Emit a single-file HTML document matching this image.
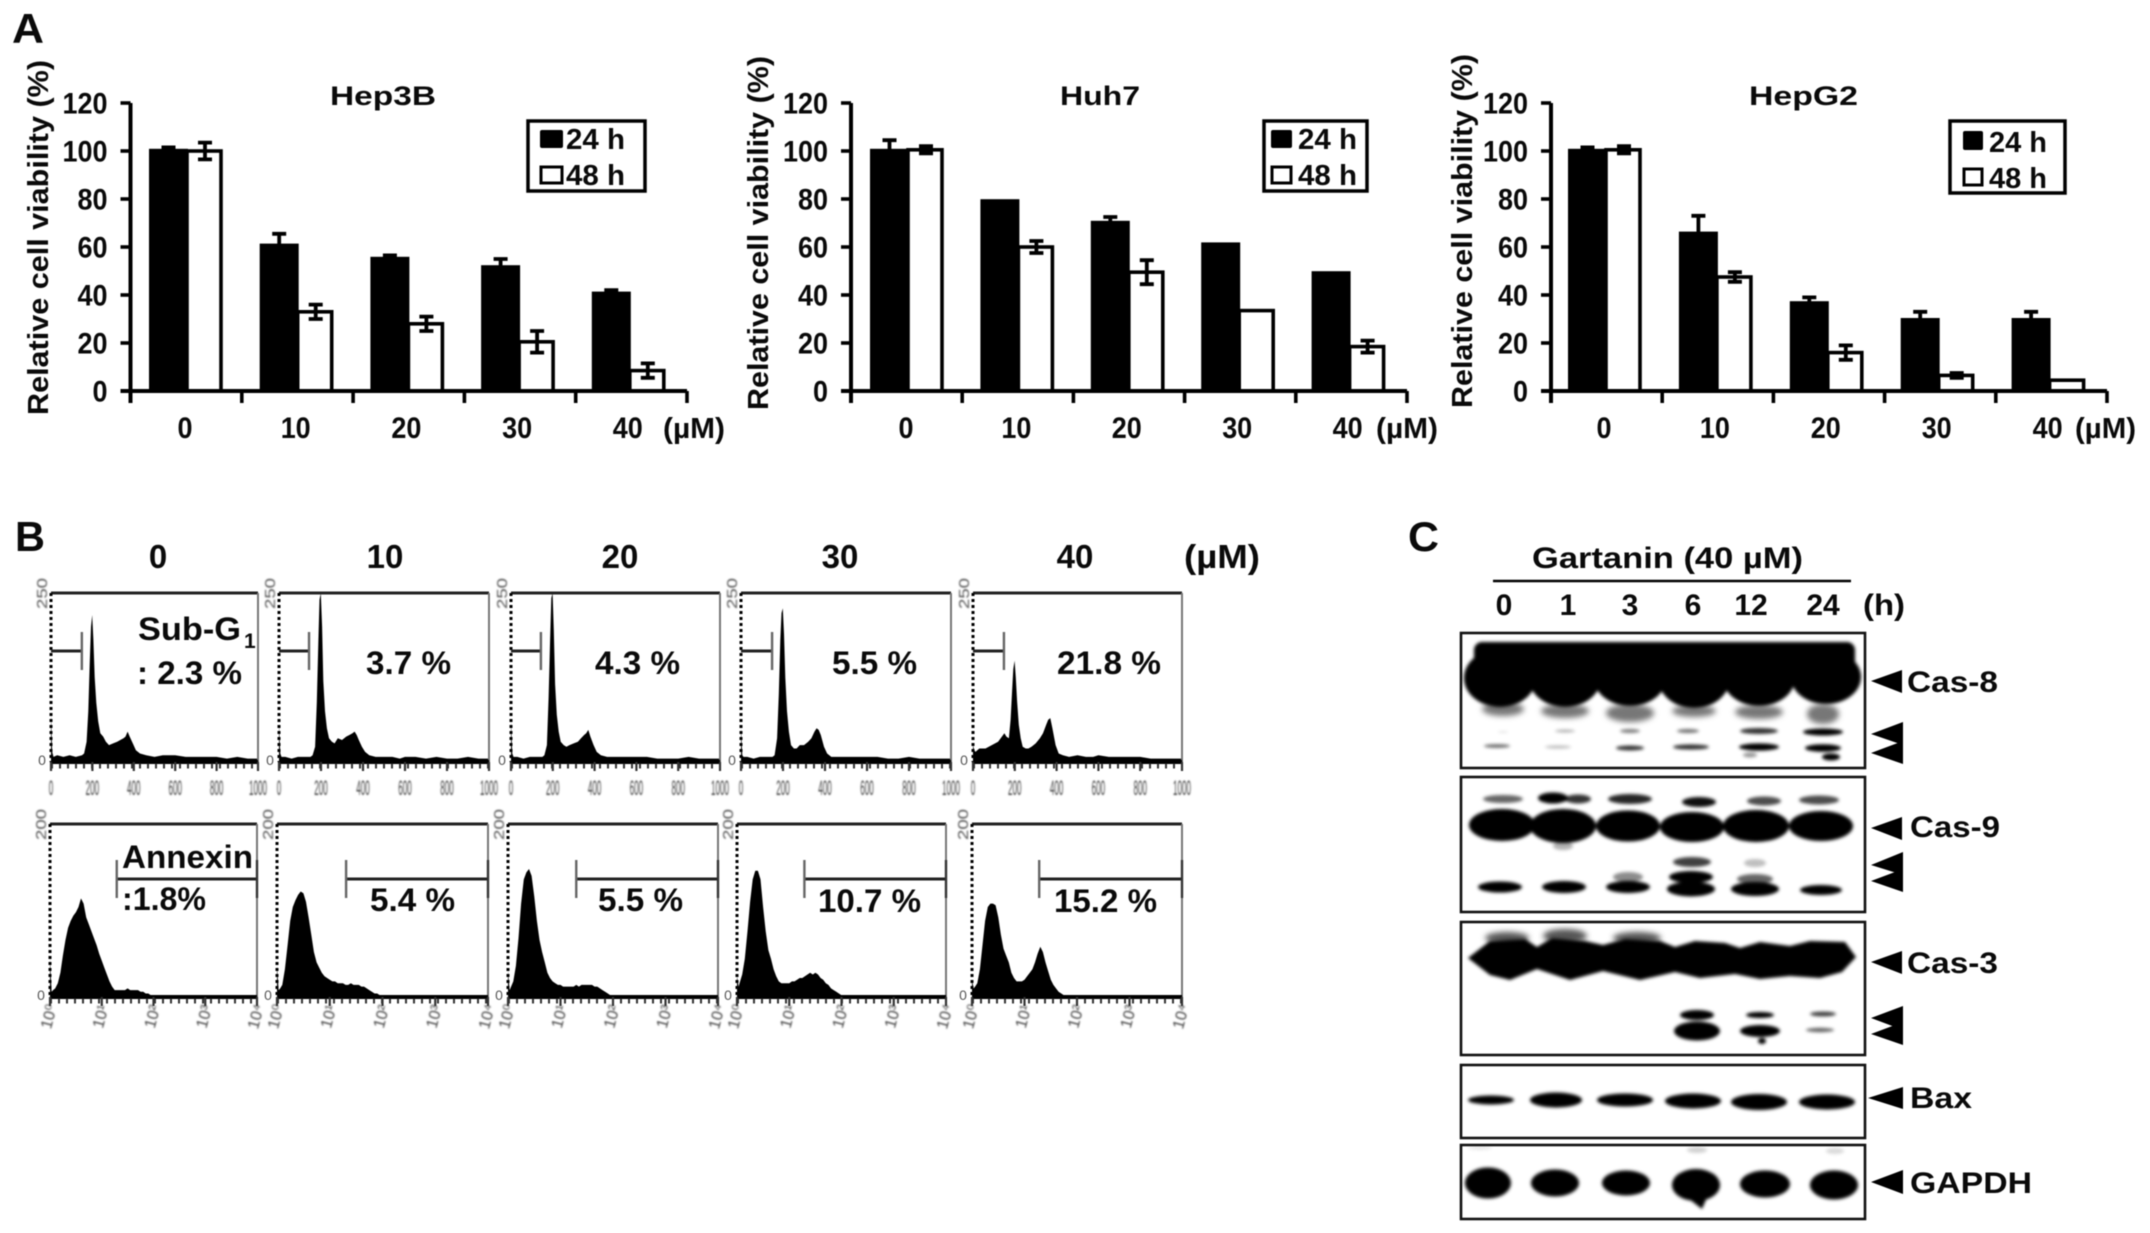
<!DOCTYPE html>
<html lang="en">
<head>
<meta charset="utf-8">
<title>Gartanin cell viability, flow cytometry and western blot figure</title>
<style>
html,body{margin:0;padding:0;background:#fff;width:2150px;height:1233px;overflow:hidden}
svg{display:block;filter:blur(0.6px)}
text{font-family:"Liberation Sans",Arial,sans-serif;font-weight:bold;fill:#0a0a0a}
</style>
</head>
<body>
<svg id="figure" xmlns="http://www.w3.org/2000/svg" width="2150" height="1233" viewBox="0 0 2150 1233">
<defs>
<filter id="soft" x="-30%" y="-60%" width="160%" height="220%"><feGaussianBlur stdDeviation="1.6"/></filter>
<filter id="softer" x="-30%" y="-60%" width="160%" height="220%"><feGaussianBlur stdDeviation="3"/></filter>
<filter id="smudge" x="-30%" y="-30%" width="160%" height="160%"><feGaussianBlur stdDeviation="0.8"/></filter>
</defs>
<rect width="2150" height="1233" fill="#fff"/>

<text x="12" y="43" font-size="42" textLength="32" lengthAdjust="spacingAndGlyphs">A</text>
<text x="15" y="551" font-size="42" textLength="30" lengthAdjust="spacingAndGlyphs">B</text>
<text x="1408" y="551" font-size="42" textLength="31" lengthAdjust="spacingAndGlyphs">C</text>

<g id="chart-a"></g>

<g>
<text x="330" y="105" font-size="27" textLength="106" lengthAdjust="spacingAndGlyphs">Hep3B</text>
<text transform="translate(48,415) rotate(-90)" font-size="29" textLength="355" lengthAdjust="spacingAndGlyphs">Relative cell viability (%)</text>
<text x="663" y="438" font-size="29" textLength="62" lengthAdjust="spacingAndGlyphs">(µM)</text>
<g>
<rect x="528" y="121" width="117" height="70" fill="#fff" stroke="#000" stroke-width="3.5"/>
<rect x="540" y="130" width="23" height="18" rx="2" fill="#000"/>
<rect x="541" y="167" width="21" height="16" fill="#fff" stroke="#000" stroke-width="3"/>
<text x="566" y="149" font-size="29" textLength="59" lengthAdjust="spacingAndGlyphs">24 h</text>
<text x="566" y="185" font-size="29" textLength="59" lengthAdjust="spacingAndGlyphs">48 h</text>
</g>
</g>

<g>
<text x="1060" y="105" font-size="27" textLength="80" lengthAdjust="spacingAndGlyphs">Huh7</text>
<text transform="translate(768,410) rotate(-90)" font-size="29" textLength="354" lengthAdjust="spacingAndGlyphs">Relative cell viability (%)</text>
<text x="1376" y="438" font-size="29" textLength="62" lengthAdjust="spacingAndGlyphs">(µM)</text>
<g>
<rect x="1264" y="121" width="103" height="70" fill="#fff" stroke="#000" stroke-width="3.5"/>
<rect x="1271" y="130" width="21" height="18" rx="2" fill="#000"/>
<rect x="1272" y="167" width="19" height="16" fill="#fff" stroke="#000" stroke-width="3"/>
<text x="1298" y="149" font-size="29" textLength="59" lengthAdjust="spacingAndGlyphs">24 h</text>
<text x="1298" y="185" font-size="29" textLength="59" lengthAdjust="spacingAndGlyphs">48 h</text>
</g>
</g>

<g>
<text x="1749" y="105" font-size="27" textLength="109" lengthAdjust="spacingAndGlyphs">HepG2</text>
<text transform="translate(1472,408) rotate(-90)" font-size="29" textLength="354" lengthAdjust="spacingAndGlyphs">Relative cell viability (%)</text>
<text x="2075" y="438" font-size="29" textLength="61" lengthAdjust="spacingAndGlyphs">(µM)</text>
<g>
<rect x="1950" y="121" width="115" height="72" fill="#fff" stroke="#000" stroke-width="3.5"/>
<rect x="1963" y="131" width="20" height="19" rx="2" fill="#000"/>
<rect x="1964" y="169" width="18" height="16" fill="#fff" stroke="#000" stroke-width="3"/>
<text x="1989" y="152" font-size="29" textLength="58" lengthAdjust="spacingAndGlyphs">24 h</text>
<text x="1989" y="188" font-size="29" textLength="58" lengthAdjust="spacingAndGlyphs">48 h</text>
</g>
</g>

<g id="chart-b"></g>

<g>
<text x="158" y="568" text-anchor="middle" font-size="33">0</text>
<text x="385" y="568" text-anchor="middle" font-size="33">10</text>
<text x="620" y="568" text-anchor="middle" font-size="33">20</text>
<text x="840" y="568" text-anchor="middle" font-size="33">30</text>
<text x="1075" y="568" text-anchor="middle" font-size="33">40</text>
<text x="1184" y="568" font-size="33" textLength="76" lengthAdjust="spacingAndGlyphs">(µM)</text>
</g>
<g>
<text x="138" y="640" font-size="32" textLength="103" lengthAdjust="spacingAndGlyphs">Sub-G</text>
<text x="244" y="648" font-size="21">1</text>
<text x="137" y="684" font-size="32" textLength="105" lengthAdjust="spacingAndGlyphs">: 2.3 %</text>
<text x="366" y="674" font-size="32" textLength="85" lengthAdjust="spacingAndGlyphs">3.7 %</text>
<text x="595" y="674" font-size="32" textLength="85" lengthAdjust="spacingAndGlyphs">4.3 %</text>
<text x="832" y="674" font-size="32" textLength="85" lengthAdjust="spacingAndGlyphs">5.5 %</text>
<text x="1057" y="674" font-size="32" textLength="104" lengthAdjust="spacingAndGlyphs">21.8 %</text>
<text x="122" y="868" font-size="32" textLength="131" lengthAdjust="spacingAndGlyphs">Annexin</text>
<text x="122" y="910" font-size="32" textLength="84" lengthAdjust="spacingAndGlyphs">:1.8%</text>
<text x="370" y="911" font-size="32" textLength="85" lengthAdjust="spacingAndGlyphs">5.4 %</text>
<text x="598" y="911" font-size="32" textLength="85" lengthAdjust="spacingAndGlyphs">5.5 %</text>
<text x="818" y="912" font-size="32" textLength="103" lengthAdjust="spacingAndGlyphs">10.7 %</text>
<text x="1054" y="912" font-size="32" textLength="103" lengthAdjust="spacingAndGlyphs">15.2 %</text>
</g>

<g>
<text x="1532" y="568" font-size="30" textLength="271" lengthAdjust="spacingAndGlyphs">Gartanin (40 µM)</text>
<line x1="1493" y1="581" x2="1851" y2="581" stroke="#000" stroke-width="2.5"/>
<text x="1504" y="615" font-size="30" text-anchor="middle">0</text>
<text x="1568" y="615" font-size="30" text-anchor="middle">1</text>
<text x="1630" y="615" font-size="30" text-anchor="middle">3</text>
<text x="1693" y="615" font-size="30" text-anchor="middle">6</text>
<text x="1751" y="615" font-size="30" text-anchor="middle">12</text>
<text x="1823" y="615" font-size="30" text-anchor="middle">24</text>
<text x="1863" y="615" font-size="30" textLength="42" lengthAdjust="spacingAndGlyphs">(h)</text>
</g>

<g>
<g filter="url(#softer)" fill="#777">
<ellipse cx="1503" cy="709" rx="21" ry="7"/><ellipse cx="1565" cy="711" rx="24" ry="7"/><ellipse cx="1630" cy="713" rx="24" ry="9"/><ellipse cx="1694" cy="711" rx="22" ry="6"/><ellipse cx="1759" cy="712" rx="24" ry="7"/><ellipse cx="1823" cy="714" rx="16" ry="10"/>
</g>
<g filter="url(#soft)" fill="#000">
<rect x="1474" y="642" width="381" height="30" rx="8"/>
<ellipse cx="1500" cy="678" rx="36" ry="29"/><ellipse cx="1565" cy="678" rx="36" ry="29"/><ellipse cx="1630" cy="678" rx="36" ry="28"/><ellipse cx="1694" cy="678" rx="36" ry="30"/><ellipse cx="1759" cy="678" rx="36" ry="28"/><ellipse cx="1826" cy="677" rx="35" ry="27"/>
<ellipse cx="1503" cy="732" rx="5" ry="1" opacity=".1"/><ellipse cx="1565" cy="731" rx="10" ry="1.5" opacity=".3"/><ellipse cx="1630" cy="731" rx="10" ry="2" opacity=".5"/><ellipse cx="1688" cy="731" rx="11" ry="2" opacity=".55"/><ellipse cx="1759" cy="731" rx="19" ry="3" opacity=".8"/><ellipse cx="1823" cy="732" rx="20" ry="3.5"/>
<ellipse cx="1497" cy="746" rx="13" ry="1.8" opacity=".6"/><ellipse cx="1558" cy="747" rx="13" ry="1.6" opacity=".25"/><ellipse cx="1630" cy="748" rx="14" ry="2.5" opacity=".8"/><ellipse cx="1691" cy="747" rx="18" ry="2.6" opacity=".8"/><ellipse cx="1759" cy="747" rx="20" ry="3.6"/><ellipse cx="1823" cy="748" rx="18" ry="3.8"/><ellipse cx="1831" cy="757" rx="9" ry="3.5"/><ellipse cx="1750" cy="755" rx="7" ry="2.5" opacity=".4"/>
</g>
<rect x="1461" y="633" width="404" height="135" fill="none" stroke="#111" stroke-width="2.6"/>
<polygon points="1871,681 1902,670 1902,693" fill="#000"/>
<polygon points="1871,734 1903,722 1903,745" fill="#000"/>
<polygon points="1871,753 1903,741 1903,764" fill="#000"/>
<text x="1907" y="692" font-size="30" textLength="91" lengthAdjust="spacingAndGlyphs">Cas-8</text>
</g>

<g>
<g filter="url(#soft)" fill="#000">
<ellipse cx="1503" cy="799" rx="20" ry="4" opacity=".6"/><ellipse cx="1553" cy="798" rx="15" ry="5.5"/><ellipse cx="1578" cy="799" rx="13" ry="4.5" opacity=".8"/><ellipse cx="1630" cy="799" rx="22" ry="5" opacity=".85"/><ellipse cx="1699" cy="802" rx="17" ry="5" opacity=".95"/><ellipse cx="1764" cy="801" rx="17" ry="4.5" opacity=".7"/><ellipse cx="1819" cy="800" rx="20" ry="4.5" opacity=".7"/>
<ellipse cx="1502" cy="825" rx="33" ry="16"/><ellipse cx="1563" cy="826" rx="33" ry="17"/><ellipse cx="1628" cy="826" rx="32" ry="15.5"/><ellipse cx="1692" cy="827" rx="32" ry="15"/><ellipse cx="1756" cy="826" rx="33" ry="16"/><ellipse cx="1821" cy="826" rx="32" ry="15"/>
<ellipse cx="1563" cy="846" rx="10" ry="4" opacity=".3"/>
<ellipse cx="1692" cy="862" rx="19" ry="5" opacity=".75"/><ellipse cx="1691" cy="877" rx="22" ry="6"/><ellipse cx="1628" cy="877" rx="15" ry="5" opacity=".45"/><ellipse cx="1755" cy="863" rx="11" ry="4" opacity=".25"/><ellipse cx="1755" cy="879" rx="18" ry="5" opacity=".6"/>
<ellipse cx="1500" cy="887" rx="22" ry="5.5"/><ellipse cx="1564" cy="887" rx="22" ry="6"/><ellipse cx="1628" cy="887" rx="22" ry="6"/><ellipse cx="1691" cy="889" rx="24" ry="7.5"/><ellipse cx="1755" cy="889" rx="24" ry="7"/><ellipse cx="1821" cy="890" rx="21" ry="5"/>
</g>
<rect x="1461" y="777" width="404" height="135" fill="none" stroke="#111" stroke-width="2.6"/>
<polygon points="1871,828 1902,817 1902,840" fill="#000"/>
<polygon points="1871,865 1903,852 1903,875" fill="#000"/>
<polygon points="1871,881 1903,869 1903,892" fill="#000"/>
<text x="1910" y="837" font-size="30" textLength="90" lengthAdjust="spacingAndGlyphs">Cas-9</text>
</g>

<g>
<g filter="url(#softer)" fill="#555">
<ellipse cx="1507" cy="938" rx="22" ry="6"/><ellipse cx="1565" cy="936" rx="22" ry="7"/><ellipse cx="1637" cy="938" rx="24" ry="6"/>
</g>
<g filter="url(#soft)" fill="#000">
<polygon points="1468,958 1490,941 1525,939 1537,947 1552,938 1585,941 1603,945 1625,939 1660,941 1675,947 1695,941 1725,943 1740,948 1760,942 1790,946 1810,941 1845,942 1856,957 1842,972 1820,978 1790,976 1760,979 1735,974 1700,978 1675,972 1640,980 1603,971 1570,980 1537,969 1510,980 1490,975"/>
<ellipse cx="1697" cy="1015" rx="17" ry="5"/><ellipse cx="1697" cy="1031" rx="23" ry="9.5"/>
<ellipse cx="1760" cy="1015" rx="14" ry="3"/><ellipse cx="1760" cy="1031" rx="20" ry="6"/><ellipse cx="1762" cy="1041" rx="4" ry="3"/>
<ellipse cx="1823" cy="1014" rx="13" ry="2.4" opacity=".75"/><ellipse cx="1820" cy="1030" rx="14" ry="2.2" opacity=".6"/>
</g>
<rect x="1461" y="922" width="404" height="133" fill="none" stroke="#111" stroke-width="2.6"/>
<polygon points="1871,962 1902,951 1902,974" fill="#000"/>
<polygon points="1871,1018 1903,1006 1903,1030" fill="#000"/>
<polygon points="1871,1034 1903,1022 1903,1045" fill="#000"/>
<text x="1907" y="973" font-size="30" textLength="91" lengthAdjust="spacingAndGlyphs">Cas-3</text>
</g>

<g>
<g filter="url(#soft)" fill="#000">
<ellipse cx="1491" cy="1100" rx="23" ry="4.5"/><ellipse cx="1556" cy="1100" rx="26" ry="7.5"/><ellipse cx="1625" cy="1100" rx="28" ry="6.5"/><ellipse cx="1693" cy="1101" rx="28" ry="7.5"/><ellipse cx="1759" cy="1102" rx="28" ry="8"/><ellipse cx="1827" cy="1102" rx="28" ry="7.5"/>
</g>
<rect x="1461" y="1065" width="404" height="73" fill="none" stroke="#111" stroke-width="2.6"/>
<polygon points="1868,1098 1903,1087 1903,1109" fill="#000"/>
<text x="1910" y="1108" font-size="30" textLength="62" lengthAdjust="spacingAndGlyphs">Bax</text>
</g>

<g>
<g filter="url(#soft)" fill="#000">
<ellipse cx="1488" cy="1183" rx="23" ry="15.5"/><ellipse cx="1555" cy="1183" rx="24" ry="13.5"/><ellipse cx="1626" cy="1183" rx="24" ry="12.5"/><ellipse cx="1696" cy="1185" rx="24" ry="16"/><polygon points="1684,1195 1708,1195 1702,1209"/><ellipse cx="1765" cy="1184" rx="25" ry="13.5"/><ellipse cx="1834" cy="1185" rx="24" ry="14.5"/>
<ellipse cx="1697" cy="1150" rx="10" ry="3" opacity=".18"/><ellipse cx="1835" cy="1151" rx="9" ry="3" opacity=".15"/><ellipse cx="1480" cy="1148" rx="12" ry="1.5" opacity=".12"/>
</g>
<rect x="1461" y="1145" width="404" height="74" fill="none" stroke="#111" stroke-width="2.6"/>
<polygon points="1871,1182 1903,1170 1903,1194" fill="#000"/>
<text x="1910" y="1193" font-size="30" textLength="122" lengthAdjust="spacingAndGlyphs">GAPDH</text>
</g>
</svg>

<script>
/* Panel A data: relative cell viability (%) */
var doses = ['0', '10', '20', '30', '40'];
var yTickLabels = ['0', '20', '40', '60', '80', '100', '120'];

var hep3b24 = [100.5, 61, 55.5, 52, 41];
var hep3b48 = [100, 33, 28, 20.5, 8.5];
var hep3b24Err = [1, 4.5, 1, 3, 1];
var hep3b48Err = [3.5, 3, 3, 4.5, 3];

var huh724 = [100.5, 79.5, 70.5, 61.5, 49.5];
var huh748 = [100.5, 60, 49.5, 33.5, 18.5];
var huh724Err = [4, 0, 2, 0, 0];
var huh748Err = [1.5, 2.5, 5, 0, 2.5];

var hepg224 = [100.5, 66, 37, 30, 30];
var hepg248 = [100.5, 47.5, 16, 6.5, 4.5];
var hepg224Err = [1, 7, 2, 3, 3];
var hepg248Err = [1.5, 2, 3, 1, 0];

/* Panel B data: histogram heights in % of plot height */
var dnaChannels = [0,6,12,30,60,90,120,150,160,172,180,187,193,199,205,211,219,228,238,252,265,280,300,320,335,350,360,370,380,395,410,430,460,500,540,575,600,650,700,750,800,850,900,950,1000];
var dnaCounts0 = [28,6,3,4,3,4,3,4,5,12,30,58,80,87,72,50,35,24,17,15,12,10,11,12,13,14,15,18,15,11,7,5,4,3,4,4,4,3,3,3,3,2,3,2,2];
var dnaCounts10 = [22,5,3,3,2,3,3,3,4,9,35,70,96,100,80,48,30,20,14,12,11,14,13,15,16,17,18,16,13,9,6,4,3,3,3,2,3,3,2,3,2,2,3,2,2];
var dnaCounts20 = [24,5,3,3,2,3,3,3,4,10,38,72,97,100,78,46,28,18,12,10,9,10,11,12,14,16,17,19,15,10,6,4,3,3,3,3,3,3,2,2,2,3,2,2,2];
var dnaCounts30 = [20,4,3,3,2,3,3,3,4,14,40,72,88,91,76,50,30,18,10,8,8,10,10,12,14,18,20,19,16,9,5,3,3,3,3,3,3,3,2,2,3,2,2,2,2];
var dnaCounts40 = [10,7,6,8,8,10,12,17,15,14,25,42,55,60,50,36,22,14,9,8,8,9,11,14,17,22,25,26,20,10,5,4,3,4,3,3,4,3,3,3,3,2,2,2,2];
var dnaGates = [149, 143, 143, 148, 148];
var dnaTickLabels = ['0', '200', '400', '600', '800', '1000'];

var annexinLog = [0,.03,.06,.1,.15,.2,.25,.3,.35,.4,.45,.5,.55,.6,.65,.7,.75,.8,.85,.9,.95,1,1.05,1.1,1.15,1.2,1.25,1.3,1.35,1.4,1.45,1.5,1.55,1.6,1.65,1.7,1.75,1.8,1.85,1.9,1.95,2,2.05,2.1,2.2,2.5,3,3.5,4];
var annexinCounts0 = [22,3,4,5,8,14,24,33,40,44,47,49,52,57,54,46,42,38,34,30,25,21,17,13,9,6,4,4,4,4,4,5,4,4,4,4,3,3,2,2,1,1,1,1,1,1,1,1,1];
var annexinCounts10 = [18,4,5,7,16,30,44,52,56,59,61,60,55,46,36,26,20,17,14,12,11,10,9,9,8,8,8,7,7,8,7,7,7,6,6,5,4,3,2,2,1,1,1,1,1,1,1,1,1];
var annexinCounts20 = [15,4,6,9,18,34,54,68,72,74,70,58,44,33,26,20,14,11,9,8,7,7,6,6,6,6,6,7,6,7,7,7,7,7,6,6,5,4,3,2,1,1,1,1,1,1,1,1,1];
var annexinCounts30 = [12,6,9,13,22,38,55,68,73,73,68,52,38,27,22,16,12,9,8,8,8,8,9,9,10,11,11,12,13,14,13,14,13,11,10,8,7,5,4,3,2,1,1,1,1,1,1,1,1];
var annexinCounts40 = [10,5,6,8,16,30,44,52,54,54,53,46,36,28,24,20,14,11,9,9,9,10,12,14,16,20,25,29,26,20,15,10,7,5,3,2,1,1,1,1,1,1,1,1,1,1,1,1,1];
var annexinGates = [1.29, 1.31, 1.30, 1.29, 1.28];
var annexinTickLabels = ['10⁰', '10¹', '10²', '10³', '10⁴'];

var SVG_NS = 'http://www.w3.org/2000/svg';

function make(tag, attrs, parent) {
  var el = document.createElementNS(SVG_NS, tag);
  for (var k in attrs) { el.setAttribute(k, attrs[k]); }
  parent.appendChild(el);
  return el;
}

/* ---------- Panel A ---------- */
function drawBarChart(cfg) {
  var root = document.getElementById('chart-a');
  var g = make('g', {}, root);
  
  

  var baseY = 391, topY = 103, yMax = 120;
  function y(v) { return baseY - (baseY - topY) * v / yMax; }
  function groupX(i) { return cfg.groupStart + cfg.groupStep * i; }
  var blackW = 39, whiteW = 34;

  doses.forEach(function (dose, i) {
    var bx = groupX(i);
    var black = make('rect', { x: bx, y: y(cfg.v24[i]) - 1, width: blackW, height: baseY - y(cfg.v24[i]) + 1, fill: '#000' }, g);
    
    

    var white = make('rect', { x: bx + blackW - 1, y: y(cfg.v48[i]), width: whiteW, height: baseY - y(cfg.v48[i]), fill: '#fff', stroke: '#000', 'stroke-width': 3.6 }, g);
    
    

    [[cfg.v24[i], cfg.e24[i], bx + blackW / 2, '24h'], [cfg.v48[i], cfg.e48[i], bx + blackW + whiteW / 2, '48h']].forEach(function (s) {
      if (s[1] <= 0) { return; }
      var d = 'M' + s[2] + ' ' + y(s[0] - s[1]) + 'V' + y(s[0] + s[1]) +
              'M' + (s[2] - 7) + ' ' + y(s[0] + s[1]) + 'H' + (s[2] + 7) +
              'M' + (s[2] - 7) + ' ' + y(s[0] - s[1]) + 'H' + (s[2] + 7);
      var err = make('path', { d: d, fill: 'none', stroke: '#000', 'stroke-width': 3.8 }, g);
      
      
    });

    var lab = make('text', { x: bx + 36, y: 438, 'font-size': 30, 'text-anchor': 'middle', textLength: 15 * dose.length, lengthAdjust: 'spacingAndGlyphs' }, g);
    lab.textContent = dose;
    
    
  });

  var yAxis = make('line', { x1: cfg.axisLeft, y1: topY, x2: cfg.axisLeft, y2: baseY + 12, stroke: '#000', 'stroke-width': 4 }, g);
  
  

  var xAxis = make('line', { x1: cfg.axisLeft - 10, y1: baseY, x2: cfg.axisRight, y2: baseY, stroke: '#000', 'stroke-width': 4 }, g);
  
  

  yTickLabels.forEach(function (t) {
    var v = parseFloat(t);
    var tick = make('line', { x1: cfg.axisLeft - 10, y1: y(v), x2: cfg.axisLeft, y2: y(v), stroke: '#000', 'stroke-width': 3.6 }, g);
    
    

    var lab = make('text', { x: cfg.axisLeft - 23, y: y(v) + 10.5, 'font-size': 30, 'text-anchor': 'end', textLength: 15 * t.length, lengthAdjust: 'spacingAndGlyphs' }, g);
    lab.textContent = t;
    
    
  });

  for (var i = 0; i <= doses.length; i++) {
    var tx = cfg.axisLeft + (cfg.axisRight - cfg.axisLeft) * i / doses.length;
    var xt = make('line', { x1: tx, y1: baseY, x2: tx, y2: baseY + 12, stroke: '#000', 'stroke-width': 3.6 }, g);
    
    
  }
}

drawBarChart({ name: 'hep3b', axisLeft: 130.5, axisRight: 687, groupStart: 149, groupStep: 110.7, v24: hep3b24, v48: hep3b48, e24: hep3b24Err, e48: hep3b48Err });
drawBarChart({ name: 'huh7', axisLeft: 851, axisRight: 1407, groupStart: 870, groupStep: 110.4, v24: huh724, v48: huh748, e24: huh724Err, e48: huh748Err });
drawBarChart({ name: 'hepg2', axisLeft: 1551, axisRight: 2107, groupStart: 1568, groupStep: 110.9, v24: hepg224, v48: hepg248, e24: hepg224Err, e48: hepg248Err });

/* ---------- Panel B ---------- */
function drawHistogram(cfg) {
  var root = document.getElementById('chart-b');
  var g = make('g', {}, root);
  
  

  function x(v) { return cfg.left + (cfg.right - cfg.left) * (v - cfg.domainMin) / (cfg.domainMax - cfg.domainMin); }
  function y(p) { return cfg.base - (cfg.base - cfg.top) * p / 100; }

  var d = 'M' + x(cfg.xs[0]) + ' ' + cfg.base;
  cfg.xs.forEach(function (xv, i) { d += 'L' + x(xv).toFixed(1) + ' ' + y(cfg.ys[i]).toFixed(1); });
  d += 'L' + x(cfg.xs[cfg.xs.length - 1]) + ' ' + cfg.base + 'Z';
  var hist = make('path', { d: d, fill: '#000' }, g);
  
  

  var top = make('line', { x1: cfg.left, y1: cfg.top, x2: cfg.right, y2: cfg.top, stroke: '#222', 'stroke-width': 3 }, g);
  
  

  var right = make('line', { x1: cfg.right, y1: cfg.top, x2: cfg.right, y2: cfg.base, stroke: '#777', 'stroke-width': 2 }, g);
  
  

  var left = make('line', { x1: cfg.left, y1: cfg.top, x2: cfg.left, y2: cfg.base, stroke: '#000', 'stroke-width': 3, 'stroke-dasharray': '3 3' }, g);
  
  

  var bottom = make('line', { x1: cfg.left, y1: cfg.base, x2: cfg.right, y2: cfg.base, stroke: '#000', 'stroke-width': 4 }, g);
  
  

  var minor = make('line', { x1: cfg.left, y1: cfg.base + 4, x2: cfg.right, y2: cfg.base + 4, stroke: '#333', 'stroke-width': 5, 'stroke-dasharray': '2 6' }, g);
  
  

  cfg.tickLabels.forEach(function (t, i) {
    var v = cfg.domainMin + (cfg.domainMax - cfg.domainMin) * i / (cfg.tickLabels.length - 1);
    var tick = make('line', { x1: x(v), y1: cfg.base, x2: x(v), y2: cfg.base + 9, stroke: '#333', 'stroke-width': 2.2 }, g);
    
    

    var attrs = { style: 'fill:#444;font-weight:normal', filter: 'url(#smudge)', 'text-anchor': 'middle' };
    if (cfg.rotateLabels) {
      attrs['font-size'] = 16;
      attrs.transform = 'translate(' + (x(v) + 4) + ',' + (cfg.base + 21) + ') rotate(-75)';
    } else {
      attrs['font-size'] = 21;
      attrs.x = x(v);
      attrs.y = cfg.base + 33;
      attrs.textLength = t.length * 4.5;
      attrs.lengthAdjust = 'spacingAndGlyphs';
    }
    var lab = make('text', attrs, g);
    lab.textContent = t;
    
    
  });

  var zero = make('text', { x: cfg.left - 9, y: cfg.base + 3, style: 'fill:#555;font-weight:normal', 'font-size': 14, 'text-anchor': 'middle' }, g);
  zero.textContent = '0';
  
  

  var topLab = make('text', { transform: 'translate(' + (cfg.left - 4) + ',' + (cfg.top + 16) + ') rotate(-90)', style: 'fill:#555;font-weight:normal', filter: 'url(#smudge)', 'font-size': 15, textLength: 31, lengthAdjust: 'spacingAndGlyphs' }, g);
  topLab.textContent = cfg.topLabel;
  
  

  var gateStart = cfg.gateFromLeft ? cfg.domainMin : cfg.gate;
  var gateEnd = cfg.gateFromLeft ? cfg.gate : cfg.domainMax;
  var gateLine = make('line', { x1: x(gateStart), y1: cfg.gateY, x2: x(gateEnd), y2: cfg.gateY, stroke: '#222', 'stroke-width': 3 }, g);
  
  

  var gateEdge = make('line', { x1: x(cfg.gate), y1: cfg.gateY - 19, x2: x(cfg.gate), y2: cfg.gateY + 19, stroke: '#666', 'stroke-width': 2.4 }, g);
  
  

  if (!cfg.gateFromLeft) {
    var gateEnd2 = make('line', { x1: x(gateEnd), y1: cfg.gateY - 19, x2: x(gateEnd), y2: cfg.gateY + 19, stroke: '#333', 'stroke-width': 2.4 }, g);
    
    
  }
}

var dnaPanels = [dnaCounts0, dnaCounts10, dnaCounts20, dnaCounts30, dnaCounts40];
var annexinPanels = [annexinCounts0, annexinCounts10, annexinCounts20, annexinCounts30, annexinCounts40];
var dnaLefts = [51, 279, 511, 741, 973];
var dnaRights = [258, 489, 720, 951, 1182];
var annexinLefts = [50, 277, 508, 737, 972];
var annexinRights = [257, 488, 718, 946, 1182];

dnaPanels.forEach(function (counts, i) {
  drawHistogram({
    name: 'dna-histogram-' + doses[i],
    left: dnaLefts[i], right: dnaRights[i], top: 593, base: 762,
    domainMin: 0, domainMax: 1000, xs: dnaChannels, ys: counts,
    tickLabels: dnaTickLabels, topLabel: '250', gate: dnaGates[i], gateFromLeft: true, gateY: 651
  });
});
annexinPanels.forEach(function (counts, i) {
  drawHistogram({
    name: 'annexin-histogram-' + doses[i],
    left: annexinLefts[i], right: annexinRights[i], top: 824, base: 997,
    domainMin: 0, domainMax: 4, xs: annexinLog, ys: counts,
    tickLabels: annexinTickLabels, topLabel: '200', gate: annexinGates[i], gateFromLeft: false, gateY: 879, rotateLabels: true
  });
});
</script>
</body>
</html>
